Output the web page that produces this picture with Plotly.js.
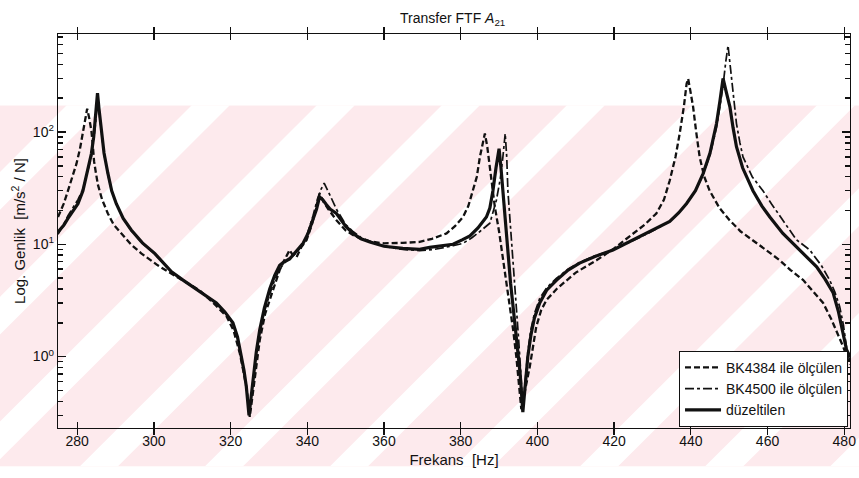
<!DOCTYPE html>
<html>
<head>
<meta charset="utf-8">
<script src="https://cdn.plot.ly/plotly-3.0.1.min.js"></script>
<style>html,body{margin:0;padding:0;background:#fff;}#chart{width:859px;height:478px;}</style>
</head>
<body>
<div id="chart"></div>
<script>
// BK4384 ile ölçülen (dashed)
const freqBK4384 = [275,276.5,277.6,278.8,279.8,280.7,281.5,282.1,282.6,283.1,283.7,284.1,284.4,284.8,285.4,286.5,288,289.5,291.5,294,296.7,298.9,301,304.1,308,311.9,315.5,318.9,320.8,322.4,323.3,324.1,325.0,325.5,326.3,327.6,329,331.1,332.8,334,335.4,336.2,337.2,338.5,339.8,341.2,342.3,343.2,344.2,345.5,347.6,350,351.9,354,356.3,360,364.9,369.3,372.5,376.3,378.5,380.6,382,383.2,384.2,385,385.8,386.3,386.9,387.6,388.2,388.9,390,391,392,392.8,393.7,394.5,395.2,395.8,396.5,397.2,398,399.7,401,402.4,405,410,415.4,420,424,428,431,433,434.5,436,437.1,438.2,438.9,439.3,439.9,440.6,441.4,442.3,443.5,444.9,447.5,450.1,453,456.2,460,463.2,466,469.3,472,474.5,476.5,478,479.7,481,481.5];
const valBK4384  = [17.5,23,30,40,52,70,103,135,161,135,103,75,55,45,34,25,18.8,15,12.5,10,8.3,7.3,6.5,5.6,4.7,3.9,3.0,2.3,1.7,1.07,0.75,0.54,0.29,0.40,0.65,1.4,2.4,3.9,5.9,7.2,8.9,8.0,7.7,9.5,10.9,15,21,28.3,24,20.5,16.4,13.3,12.1,11.2,10.6,10.2,10.3,10.5,11.2,12.5,14.5,17.5,22,30,40,60,80,97,75,49,32,21.5,13,7.7,4.3,2.8,1.7,1.0,0.6,0.34,0.45,0.6,0.81,1.85,2.6,3.2,4.0,5.6,7.2,9.2,11.7,15,18.8,25,37,60,97,170,269,298,230,167,100,60,40,30,21,16.4,13,10.9,8.7,7.2,5.9,4.8,3.8,3.0,2.2,1.7,1.23,0.93,0.85];

// BK4500 ile ölçülen (dash-dot)
const freqBK4500 = [275,276.5,277.6,279,280.2,281.5,282.4,283.2,283.7,284.3,284.8,285.3,285.7,286.3,287,288,289,290.2,292,294.1,297,300.2,304.6,307.6,312,316.3,318.5,320.6,321.8,322.8,323.6,324.3,324.9,325.4,326,326.8,327.6,328.8,330.2,331.5,332.8,334,335.4,336.5,337.5,338.9,340.2,341.5,342.6,343.6,344.4,345,346,347.6,350,351.9,354,356.3,360,364.9,369.3,373,376.3,378,380.6,383,385,387.6,389.3,390.3,391,391.6,392,392.3,393,393.6,394,394.5,395,395.4,395.8,396.2,396.7,397.5,398.3,399.2,400.6,402.4,405,408,411,415,419.7,424,428.4,431.5,434.5,436.8,438.9,441.2,443.2,445,446.7,447.6,448.4,449.1,449.7,450.3,451,451.9,452.8,453.6,456,458.8,461,464.9,467.5,471,474,476.2,477.5,478.8,479.8,480.6,481.2,481.5];
const valBK4500  = [12.3,15,18,21.5,25,31,40,50,60,85,120,200,150,100,64,42,30,23,17,13.2,10.2,8.2,5.7,4.8,3.8,3.0,2.5,1.95,1.45,1.0,0.7,0.48,0.32,0.45,0.7,1.15,1.6,2.5,3.6,4.8,6.0,6.8,7.6,8.0,8.7,10.0,13,18,25,31,35,32,27,20.5,15,13,11.5,10.7,9.6,9.0,8.8,9.0,9.4,9.7,10.2,11.5,13,15.4,24.7,38,60,97,60,30,14,7.7,4.5,2.8,1.6,1.0,0.6,0.36,0.55,1.1,1.75,2.4,3.3,4.1,5.0,6.0,6.9,7.9,8.9,10.4,12.3,14,16,19,23,30,42,62,110,170,260,420,590,380,220,119,80,60,40,30,23,15,11,8.9,6.5,4.8,3.8,2.8,1.9,1.2,1.0,0.9];

// düzeltilen (solid)
const freqCorr = [275,276.5,277.6,279,280.2,281.5,282.4,283.2,283.7,284.3,284.6,285.0,285.3,285.7,286.3,287,288,289,290.2,292,294.1,297,300.2,304.6,307.6,312,316.3,318.5,320.6,321.8,322.8,323.5,324.1,324.8,325.3,325.8,326.7,327.6,328.8,330.2,331.5,332.8,334,335.4,336.5,337.5,338.9,340.2,341.5,342.4,343.2,344,345,346,347.6,350,351.9,354,356.3,360,364.9,369.3,371.9,375,378,380.5,382.4,384.5,386.7,387.6,388.4,389.2,390,390.5,391,391.6,392.3,393,393.6,394.3,394.9,395.5,396.2,396.8,397.5,398.3,399.2,400.6,402.4,405,408,411,415,419.7,424,428.4,431.5,434.5,436.8,438.9,441.2,443.2,445,446.7,447.6,448.4,449.2,450.2,451,451.9,453.5,456.2,458.5,460.6,464,467.5,470,472.8,475,477.1,478.5,479.7,480.6,481.5];
const valCorr  = [12.9,14.8,17,20,23,30,40,52,64,90,119,170,222,160,103,65,43,30,23,17,13.4,10.3,8.3,5.7,4.8,3.8,3.0,2.5,2.0,1.5,1.0,0.75,0.54,0.30,0.42,0.62,1.1,1.73,2.7,4.0,5.3,6.5,7.0,7.4,8.2,9.0,10.2,12.5,16.4,20.5,26.4,25,22.5,20.5,18.8,14.5,12.5,11.2,10.5,9.6,9.2,9.0,9.4,9.7,10.0,11,11.9,14,17.5,21,30,48,71,48,30,17,8.0,4.5,2.9,1.8,1.2,0.7,0.32,0.55,1.0,1.55,2.2,3.0,3.9,4.8,5.9,6.8,7.8,8.9,10.5,12.5,14.2,16,19,23.1,30,42.6,65,119,190,300,230,167,110,74,48,30,22,17.5,12.5,9.5,7.7,6.3,4.9,3.7,2.5,1.6,1.15,1.0];

const seriesNames = ['BK4384 ile ölçülen', 'BK4500 ile ölçülen', 'düzeltilen'];
const xTickVals = [280,300,320,340,360,380,400,420,440,460,480];
const yMajorVals = [1, 10, 100];
const yMajorText = ['10<sup>0</sup>', '10<sup>1</sup>', '10<sup>2</sup>'];
const yMinorVals = [0.3,0.4,0.5,0.6,0.7,0.8,0.9,2,3,4,5,6,7,8,9,20,30,40,50,60,70,80,90,200,300,400,500,600,700];

// all y ticks on the main axis (labels only on decades); decades re-ticked longer on the overlay axis
const yAllVals = yMajorVals.concat(yMinorVals);
const yAllText = yMajorText.concat(yMinorVals.map(() => ''));

// watermark (decoration, pixel space of the 859x478 page)
function watermarkSVG(){
  let s = '<svg xmlns="http://www.w3.org/2000/svg" width="859" height="478" viewBox="0 0 859 478">';
  s += '<defs><clipPath id="c"><rect x="0" y="105" width="859" height="362"/></clipPath></defs>';
  s += '<g clip-path="url(#c)"><rect x="0" y="105" width="859" height="362" fill="#fdeaed"/>';
  const h = 362;
  for (let x0 = -420; x0 < 900; x0 += 125) {
    s += '<polygon fill="#ffffff" points="' + x0 + ',467 ' + (x0+38) + ',467 ' + (x0+38+h) + ',105 ' + (x0+h) + ',105"/>';
  }
  s += '</g></svg>';
  return 'data:image/svg+xml;charset=utf-8,' + encodeURIComponent(s);
}

const L = 58.3, R = 850, T = 33.5, B = 428.3;
const pw = R - L, ph = B - T;
const yRange = [-0.636, 2.873];

const traces = [
  {x: freqBK4384, y: valBK4384, name: seriesNames[0], mode: 'lines',
   line: {color: '#111', width: 2.3, dash: '6px,3px'}},
  {x: freqBK4500, y: valBK4500, name: seriesNames[1], mode: 'lines',
   line: {color: '#111', width: 1.7, dash: 'dashdot'}},
  {x: freqCorr, y: valCorr, name: seriesNames[2], mode: 'lines', yaxis: 'y2',
   line: {color: '#111', width: 3.2}}
];

const font = 'Liberation Sans, Arial, sans-serif';
const layout = {
  width: 859, height: 478,
  margin: {l: L, r: 859 - R, t: T, b: 478 - B, pad: 0},
  paper_bgcolor: '#ffffff', plot_bgcolor: 'rgba(0,0,0,0)',
  font: {family: font, size: 14, color: '#111'},
  title: {text: 'Transfer FTF <i>A</i><sub>21</sub>', x: 0.527, xanchor: 'center', y: 0.962, yanchor: 'middle',
          font: {family: font, size: 14, color: '#111'}},
  showlegend: true,
  legend: {x: 0.9975, xanchor: 'right', y: 0.003, yanchor: 'bottom', bgcolor: '#ffffff',
           bordercolor: '#111', borderwidth: 1, font: {family: font, size: 14, color: '#111'},
           tracegroupgap: 0, itemwidth: 36},
  xaxis: {range: [275, 481.5], tickvals: xTickVals, ticktext: xTickVals.map(String),
          ticks: 'inside', ticklen: 6, tickwidth: 1.3, tickcolor: '#111', showline: true, linecolor: '#111', linewidth: 1.3,
          mirror: 'allticks', showgrid: false, zeroline: false,
          tickfont: {family: font, size: 14, color: '#111'},
          title: {text: 'Frekans  [Hz]', font: {family: font, size: 15, color: '#111'}, standoff: 6}},
  yaxis: {type: 'log', range: yRange, tickvals: yAllVals, ticktext: yAllText,
          ticks: 'inside', ticklen: 5, tickwidth: 1.5, tickcolor: '#111', showline: true, linecolor: '#111', linewidth: 1.3,
          mirror: 'allticks', showgrid: false, zeroline: false,
          tickfont: {family: font, size: 14, color: '#111'},
          title: {text: 'Log. Genlik  [m/s<sup>2</sup> / N]', font: {family: font, size: 15, color: '#111'}, standoff: 3}},
  yaxis2: {type: 'log', range: yRange, overlaying: 'y', side: 'left', tickvals: yMajorVals,
           showticklabels: false, ticks: 'inside', ticklen: 8, tickwidth: 1.5, tickcolor: '#111',
           showline: false, mirror: 'ticks', showgrid: false, zeroline: false},
  images: [{source: watermarkSVG(), xref: 'paper', yref: 'paper',
            x: -L / pw, y: B / ph, sizex: 859 / pw, sizey: 478 / ph,
            xanchor: 'left', yanchor: 'top', sizing: 'stretch', layer: 'below', opacity: 1}]
};

Plotly.newPlot('chart', traces, layout, {displayModeBar: false, staticPlot: true});
</script>
</body>
</html>
